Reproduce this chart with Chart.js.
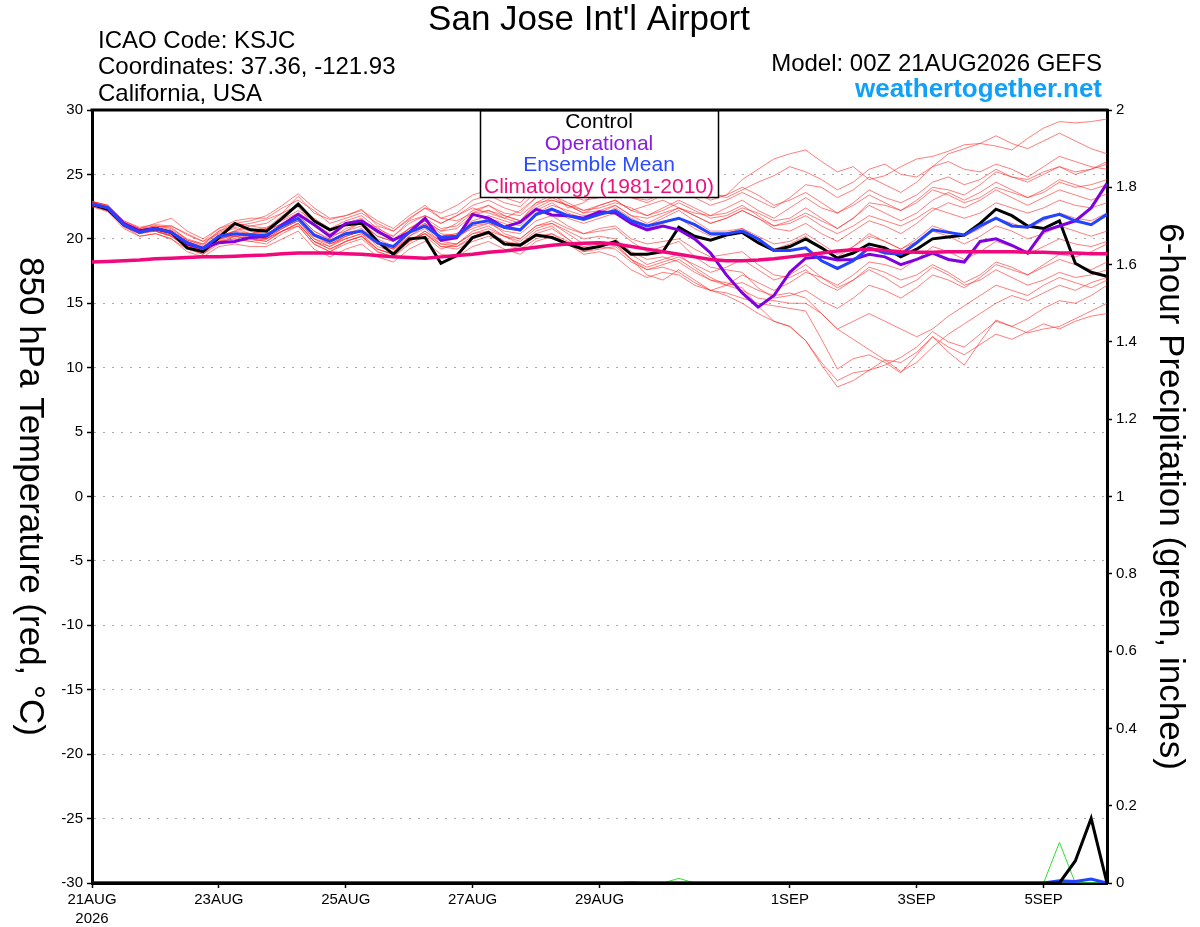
<!DOCTYPE html>
<html lang="en">
<head>
<meta charset="UTF-8">
<title>San Jose Int'l Airport - GEFS 850 hPa Temperature</title>
<script src="https://cdn.jsdelivr.net/npm/chart.js"></script>
<style>
    body { margin: 0; padding: 0; background: #fff; overflow: hidden; }
    #wrap { width: 1200px; height: 927px; }
</style>
</head>
<body>
<div id="wrap"><canvas id="gefsChart" width="1200" height="927"></canvas></div>
<script>
// forecast hours from 00Z 21AUG2026, every 6 h
const hours = [0, 6, 12, 18, 24, 30, 36, 42, 48, 54, 60, 66, 72, 78, 84, 90, 96, 102, 108, 114, 120, 126,
    132, 138, 144, 150, 156, 162, 168, 174, 180, 186, 192, 198, 204, 210, 216, 222, 228, 234, 240, 246,
    252, 258, 264, 270, 276, 282, 288, 294, 300, 306, 312, 318, 324, 330, 336, 342, 348, 354, 360, 366,
    372, 378, 384];
const tickHours = [0, 48, 96, 144, 192, 264, 312, 360];
const tickLabels = ["21AUG", "23AUG", "25AUG", "27AUG", "29AUG", "1SEP", "3SEP", "5SEP"];
const tempTicks = [-30, -25, -20, -15, -10, -5, 0, 5, 10, 15, 20, 25, 30];
const precipTicks = [0, 0.2, 0.4, 0.6, 0.8, 1, 1.2, 1.4, 1.6, 1.8, 2];

// 850 hPa temperature (C)
const control = [22.7, 22.3, 21.1, 20.6, 20.8, 20.5, 19.3, 19.0,
    20.1, 21.2, 20.7, 20.6, 21.6, 22.7, 21.4, 20.7,
    21.1, 21.2, 19.8, 18.8, 20.0, 20.1, 18.1, 18.7,
    20.1, 20.5, 19.6, 19.5, 20.3, 20.1, 19.6, 19.2,
    19.4, 19.8, 18.8, 18.8, 19.0, 20.9, 20.2, 19.9,
    20.3, 20.5, 19.7, 19.1, 19.4, 20.0, 19.3, 18.5,
    18.9, 19.6, 19.3, 18.6, 19.2, 20.0, 20.15, 20.3,
    21.2, 22.3, 21.8, 21.0, 20.8, 21.4, 18.1, 17.4, 17.1];
const operational = [22.7, 22.4, 21.2, 20.6, 20.8, 20.5, 19.6, 19.25,
    19.7, 19.8, 20.1, 20.2, 21.1, 21.9, 21.1, 20.2,
    21.2, 21.4, 20.6, 19.9, 20.5, 21.6, 19.9, 20.1,
    21.9, 21.6, 20.9, 21.3, 22.3, 21.85, 21.8, 21.6,
    22.1, 22.0, 21.2, 20.7, 21.0, 20.7, 20.0, 18.9,
    17.2, 15.8, 14.7, 15.6, 17.4, 18.5, 18.6, 18.35,
    18.4, 18.8, 18.6, 18.0, 18.4, 18.9, 18.4, 18.2,
    19.8, 20.0, 19.5, 18.9, 20.6, 21.0, 21.4, 22.4, 24.3];
const ensMean = [22.7, 22.4, 21.1, 20.5, 20.8, 20.5, 19.7, 19.25,
    20.2, 20.4, 20.3, 20.3, 21.0, 21.6, 20.3, 19.8,
    20.4, 20.6, 19.7, 19.4, 20.5, 21.0, 20.1, 20.2,
    21.2, 21.4, 20.9, 20.7, 21.9, 22.3, 21.8, 21.5,
    21.9, 22.2, 21.4, 21.0, 21.3, 21.6, 21.1, 20.4,
    20.4, 20.6, 20.0, 19.1, 19.1, 19.3, 18.3, 17.7,
    18.3, 19.3, 18.9, 18.8, 19.7, 20.7, 20.5, 20.3,
    21.0, 21.6, 21.0, 20.9, 21.6, 21.9, 21.4, 21.1, 21.9];
const climatology = [18.2, 18.25, 18.3, 18.35, 18.45, 18.5, 18.55, 18.6,
    18.6, 18.65, 18.7, 18.75, 18.85, 18.9, 18.9, 18.9,
    18.85, 18.8, 18.7, 18.6, 18.55, 18.5, 18.6, 18.7,
    18.8, 18.95, 19.05, 19.2, 19.35, 19.5, 19.6, 19.65,
    19.7, 19.6, 19.4, 19.2, 19.0, 18.8, 18.6, 18.4,
    18.3, 18.3, 18.35, 18.45, 18.6, 18.75, 18.9, 19.05,
    19.15, 19.2, 19.1, 19.0, 18.95, 18.95, 19.0, 19.0,
    19.0, 19.0, 19.0, 18.95, 18.95, 18.9, 18.9, 18.85, 18.85];

// ensemble members (red)
const member01 = [22.9, 22.5, 21.3, 20.8, 21.0, 20.9, 19.9, 19.6, 20.6, 21.0, 21.2, 21.5, 22.0, 23.3, 22.0, 21.5,
    21.8, 22.3, 21.0, 20.6, 21.5, 22.4, 21.6, 22.0, 23.0, 23.4, 22.8, 22.5, 23.6, 24.2, 23.8, 23.4,
    23.6, 24.0, 23.2, 23.0, 23.5, 24.2, 23.6, 23.0, 23.4, 24.6, 25.4, 26.2, 26.6, 26.9, 26.0, 25.2,
    25.6, 24.6, 24.9, 25.6, 26.2, 26.4, 26.8, 27.3, 27.4, 27.2, 26.9, 27.8, 28.6, 29.1, 29.0, 29.1, 29.3];
const member02 = [22.6, 22.2, 21.0, 20.4, 20.9, 21.0, 20.4, 19.8, 20.4, 20.8, 20.4, 20.8, 21.5, 22.2, 21.4, 20.6,
    21.2, 21.6, 20.4, 20.2, 21.4, 21.8, 21.2, 21.8, 22.4, 22.0, 21.6, 22.2, 23.2, 23.6, 22.4, 22.8,
    23.8, 24.6, 24.2, 23.4, 23.9, 24.6, 24.0, 23.6, 23.2, 23.8, 24.4, 24.9, 25.6, 25.2, 24.6, 23.8,
    24.4, 25.4, 25.8, 25.0, 24.8, 25.6, 26.6, 27.0, 27.4, 28.0, 27.4, 27.0, 27.6, 28.2, 27.6, 27.0, 26.6];
const member03 = [22.8, 22.4, 21.2, 20.8, 20.6, 20.2, 19.4, 19.0, 20.0, 20.6, 21.0, 20.8, 21.8, 22.5, 21.0, 20.2,
    20.6, 21.3, 20.9, 20.0, 20.8, 21.4, 20.6, 21.2, 22.2, 22.6, 21.8, 21.4, 22.8, 23.0, 22.6, 22.0,
    22.6, 23.0, 22.2, 22.6, 23.0, 22.4, 22.0, 21.8, 22.4, 23.0, 22.2, 21.6, 22.4, 23.2, 22.4, 22.0,
    22.8, 23.8, 23.2, 22.8, 23.4, 24.4, 24.8, 24.2, 24.6, 25.4, 24.8, 24.6, 25.2, 25.6, 25.0, 25.4, 25.8];
const member04 = [22.7, 22.3, 20.9, 20.4, 20.7, 20.6, 19.8, 19.4, 20.3, 20.2, 20.0, 19.8, 20.6, 21.2, 19.8, 19.4,
    20.2, 20.6, 19.4, 19.0, 20.2, 20.8, 19.8, 20.0, 21.0, 21.6, 21.2, 20.6, 22.0, 22.6, 22.2, 21.8,
    22.0, 22.6, 21.8, 21.6, 22.0, 22.4, 21.8, 21.2, 21.6, 22.2, 21.6, 20.8, 20.6, 21.2, 20.4, 19.8,
    20.6, 21.4, 21.0, 20.4, 21.2, 22.2, 22.8, 22.4, 23.0, 23.8, 23.2, 22.6, 23.2, 23.8, 23.4, 23.0, 23.5];
const member05 = [22.6, 22.2, 21.0, 20.2, 20.4, 20.0, 19.2, 18.8, 19.8, 20.0, 19.8, 19.6, 20.4, 21.0, 19.6, 19.0,
    19.8, 20.2, 19.0, 18.6, 19.6, 20.2, 19.2, 19.6, 20.6, 21.0, 20.2, 19.6, 20.6, 21.0, 20.0, 19.0,
    19.4, 19.2, 18.2, 17.6, 18.0, 18.4, 17.6, 16.8, 16.6, 16.2, 14.8, 13.6, 13.2, 12.1, 10.2, 8.5,
    9.0, 9.8, 10.6, 10.4, 11.2, 12.4, 11.6, 11.0, 11.8, 12.6, 12.2, 12.8, 13.4, 13.0, 13.6, 14.0, 14.2];
const member06 = [22.5, 22.2, 21.1, 20.6, 20.9, 20.4, 19.5, 19.1, 19.9, 20.4, 20.0, 20.2, 21.0, 21.6, 20.4, 19.6,
    20.0, 20.4, 19.2, 18.8, 19.8, 20.6, 19.8, 19.6, 20.4, 20.6, 19.8, 19.4, 20.2, 20.4, 19.6, 18.8,
    19.0, 18.6, 17.6, 17.0, 17.4, 17.2, 16.4, 16.0, 15.8, 15.4, 15.0, 14.8, 14.6, 14.4, 12.2, 9.9,
    10.7, 11.0, 10.4, 9.6, 11.0, 12.4, 11.2, 10.2, 12.0, 13.7, 13.2, 12.7, 13.0, 13.2, 13.8, 14.4, 15.0];
const member07 = [22.8, 22.3, 21.0, 20.5, 20.6, 20.3, 19.6, 19.2, 20.0, 20.3, 20.4, 20.6, 21.2, 21.8, 20.6, 19.9,
    20.4, 20.8, 19.8, 19.2, 20.2, 21.0, 20.2, 20.4, 21.2, 21.4, 20.4, 20.0, 21.0, 21.2, 20.6, 20.0,
    20.2, 20.0, 19.0, 18.4, 18.6, 18.2, 17.4, 16.8, 16.4, 16.0, 15.4, 15.2, 15.0, 15.0, 14.2, 13.0,
    12.2, 11.4, 10.6, 9.7, 10.4, 11.6, 12.6, 13.4, 14.2, 15.0, 15.6, 15.2, 15.8, 16.4, 16.0, 16.6, 17.0];
const member08 = [22.7, 22.4, 21.2, 20.6, 20.8, 20.5, 19.6, 19.0, 20.0, 20.4, 20.2, 20.0, 20.8, 21.4, 20.0, 19.4,
    20.0, 20.4, 19.6, 19.2, 20.0, 20.4, 19.4, 19.4, 20.2, 20.6, 20.2, 20.0, 21.0, 21.4, 20.8, 20.4,
    20.8, 21.0, 20.0, 19.6, 19.8, 20.0, 19.2, 18.6, 18.8, 19.0, 18.0, 17.2, 17.0, 17.6, 16.6, 16.0,
    16.8, 17.8, 17.4, 16.8, 17.2, 18.0, 17.4, 16.6, 17.2, 18.2, 17.8, 17.2, 17.8, 18.4, 18.0, 17.6, 18.2];
const member09 = [22.6, 22.4, 21.2, 20.6, 20.9, 20.7, 19.9, 19.5, 20.5, 20.9, 20.6, 20.9, 21.4, 22.0, 21.2, 20.4,
    21.0, 21.2, 20.2, 19.8, 20.8, 21.6, 20.8, 21.0, 22.0, 22.2, 21.6, 21.2, 22.4, 23.0, 22.6, 22.2,
    22.4, 22.8, 22.4, 21.8, 22.2, 22.8, 22.2, 21.6, 21.8, 22.4, 22.0, 21.4, 21.6, 22.4, 21.6, 20.8,
    21.6, 22.6, 22.0, 21.4, 22.0, 23.0, 23.6, 23.0, 23.6, 24.4, 23.8, 23.2, 23.6, 24.4, 24.0, 24.2, 24.6];
const member10 = [22.9, 22.6, 21.3, 20.6, 20.8, 20.4, 19.4, 18.9, 19.8, 20.2, 20.0, 20.4, 21.0, 21.4, 20.2, 19.6,
    20.2, 20.6, 19.6, 19.2, 20.4, 21.2, 20.2, 20.4, 21.4, 21.8, 21.4, 21.0, 22.2, 22.8, 22.0, 21.6,
    21.8, 22.4, 21.6, 21.0, 21.6, 22.2, 21.4, 20.6, 20.6, 20.8, 20.0, 19.2, 19.6, 20.2, 19.2, 18.6,
    19.4, 20.4, 19.8, 19.2, 20.0, 21.0, 20.6, 20.2, 20.8, 21.6, 21.2, 20.8, 21.4, 22.0, 21.6, 21.4, 22.0];
const member11 = [22.6, 22.3, 21.0, 20.4, 20.6, 20.2, 19.3, 18.8, 19.6, 20.2, 20.4, 20.2, 20.8, 21.6, 20.4, 19.8,
    20.6, 21.0, 20.0, 19.4, 20.6, 21.4, 20.4, 20.2, 20.8, 21.2, 20.6, 20.4, 21.4, 21.8, 21.0, 20.4,
    20.6, 20.8, 19.8, 19.0, 19.4, 19.8, 18.6, 17.8, 17.6, 17.4, 16.2, 15.4, 15.6, 16.0, 15.2, 14.6,
    15.4, 16.4, 16.0, 15.4, 16.2, 17.2, 16.8, 16.2, 17.0, 18.0, 17.6, 17.2, 18.0, 18.8, 18.6, 19.0, 19.6];
const member12 = [22.8, 22.5, 21.2, 20.7, 21.0, 20.8, 20.0, 19.6, 20.6, 21.2, 21.0, 21.2, 22.0, 22.6, 21.6, 20.8,
    21.4, 21.8, 20.8, 20.2, 21.2, 21.8, 21.2, 21.8, 22.6, 23.0, 22.4, 22.0, 23.2, 23.8, 23.4, 23.0,
    23.2, 23.8, 23.2, 22.8, 23.4, 24.0, 23.2, 22.6, 23.0, 23.6, 23.0, 22.4, 23.2, 24.2, 24.0, 23.2,
    23.8, 24.8, 24.2, 23.6, 24.4, 25.6, 26.0, 25.4, 25.2, 25.8, 25.4, 24.8, 25.6, 26.4, 26.0, 25.6, 25.4];
const member13 = [22.7, 22.2, 21.0, 20.5, 20.7, 20.4, 19.6, 19.2, 20.2, 20.6, 20.0, 19.8, 20.6, 21.2, 19.8, 19.2,
    19.8, 20.2, 19.2, 18.8, 19.8, 20.6, 19.6, 19.4, 20.0, 20.4, 19.6, 19.2, 20.0, 20.4, 19.8, 19.4,
    19.6, 19.8, 18.8, 18.0, 18.4, 18.8, 17.8, 17.0, 16.4, 16.6, 16.0, 15.6, 15.8, 15.4, 14.2, 13.0,
    13.6, 14.2, 13.6, 13.0, 12.4, 13.0, 14.0, 14.8, 15.6, 16.4, 16.0, 15.6, 16.4, 17.0, 16.6, 16.2, 16.8];
const member14 = [22.6, 22.2, 21.0, 20.6, 20.9, 20.6, 19.8, 19.3, 20.2, 20.4, 20.2, 20.0, 20.8, 21.4, 20.0, 19.6,
    20.2, 20.6, 19.6, 19.4, 20.6, 21.2, 20.2, 20.2, 21.0, 21.2, 20.8, 20.6, 21.8, 22.2, 21.6, 21.2,
    21.6, 22.0, 21.2, 20.8, 21.2, 21.6, 20.8, 20.2, 20.4, 20.8, 20.2, 19.6, 19.8, 20.4, 19.6, 18.8,
    19.4, 20.2, 19.8, 19.2, 19.8, 20.6, 20.2, 19.6, 20.2, 21.0, 20.6, 20.0, 20.4, 21.0, 20.6, 20.2, 20.6];
const member15 = [22.9, 22.6, 21.4, 20.9, 21.1, 21.0, 20.3, 19.8, 20.8, 21.4, 21.6, 21.6, 22.4, 23.0, 22.2, 21.2,
    21.6, 22.0, 21.2, 20.6, 21.6, 22.4, 22.0, 22.6, 23.4, 23.8, 23.2, 22.8, 24.0, 24.6, 24.2, 23.8,
    24.2, 24.6, 23.8, 23.4, 23.8, 24.4, 23.8, 23.2, 23.4, 24.0, 23.4, 22.6, 23.0, 23.6, 22.8, 22.0,
    22.6, 23.4, 22.8, 22.2, 22.8, 23.8, 23.4, 22.8, 23.2, 24.0, 23.6, 23.2, 23.8, 24.6, 24.2, 23.8, 24.2];
const member16 = [22.5, 22.1, 20.8, 20.2, 20.4, 20.0, 19.0, 18.6, 19.4, 19.6, 19.4, 19.4, 20.0, 20.6, 19.2, 18.6,
    19.2, 19.6, 18.6, 18.2, 19.2, 19.8, 18.8, 18.6, 19.4, 19.8, 19.2, 18.8, 19.8, 20.2, 19.6, 19.0,
    19.2, 19.4, 18.4, 17.8, 18.2, 18.6, 18.0, 17.4, 17.8, 18.4, 17.6, 16.8, 17.2, 18.0, 17.0, 16.2,
    16.8, 17.6, 17.0, 16.2, 16.8, 17.8, 17.2, 16.4, 16.8, 17.6, 17.0, 16.4, 16.8, 17.4, 17.0, 17.2, 17.6];
const member17 = [22.7, 22.4, 21.2, 20.6, 20.8, 20.4, 19.6, 19.2, 20.2, 20.6, 20.4, 20.6, 21.2, 21.8, 20.6, 20.0,
    20.8, 21.2, 20.2, 19.8, 20.8, 21.4, 20.6, 20.8, 21.8, 22.2, 21.8, 21.4, 22.6, 23.2, 22.6, 22.0,
    22.2, 22.6, 21.8, 21.2, 21.8, 22.4, 21.8, 21.2, 21.6, 22.2, 21.6, 21.0, 21.4, 22.0, 21.4, 20.8,
    21.6, 22.8, 22.6, 22.2, 23.0, 24.0, 23.8, 23.4, 24.2, 25.2, 24.8, 24.4, 25.0, 25.6, 25.2, 25.4, 26.0];
const member18 = [22.8, 22.3, 21.1, 20.5, 20.6, 20.2, 19.4, 19.0, 19.8, 20.0, 19.8, 20.0, 20.6, 21.0, 19.6, 19.0,
    19.6, 20.0, 19.0, 18.6, 19.8, 20.4, 19.4, 19.2, 19.8, 20.2, 19.8, 19.6, 20.4, 20.8, 20.0, 19.2,
    19.4, 19.6, 18.4, 17.2, 16.8, 17.6, 16.8, 16.0, 16.4, 17.2, 16.6, 16.0, 16.6, 17.4, 17.0, 16.4,
    17.2, 18.2, 18.0, 17.6, 18.4, 19.4, 19.0, 18.4, 19.0, 19.8, 19.4, 18.8, 19.4, 20.0, 19.6, 19.4, 19.8];
const member19 = [22.9, 22.6, 21.4, 20.8, 21.2, 21.6, 20.6, 20.0, 20.8, 21.2, 21.4, 21.8, 22.6, 23.5, 22.4, 21.6,
    21.8, 22.2, 21.4, 20.8, 21.8, 22.6, 21.6, 21.4, 22.0, 22.6, 22.0, 21.8, 22.8, 23.4, 22.8, 22.2,
    22.6, 23.0, 22.2, 21.8, 22.4, 23.0, 22.4, 21.8, 22.0, 22.6, 21.8, 21.0, 21.2, 21.8, 21.0, 20.4,
    21.0, 21.8, 21.4, 21.0, 21.6, 22.4, 22.0, 21.6, 22.0, 22.8, 22.4, 22.0, 22.4, 23.0, 22.6, 22.4, 22.8];
const member20 = [22.6, 22.3, 21.1, 20.5, 20.7, 20.3, 19.5, 19.0, 20.0, 20.2, 20.0, 20.0, 20.6, 21.2, 19.8, 19.2,
    19.8, 20.2, 19.2, 18.8, 19.8, 20.4, 19.6, 19.6, 20.4, 20.8, 20.2, 19.8, 20.8, 21.2, 20.4, 19.6,
    19.8, 19.6, 18.4, 17.6, 17.8, 17.4, 16.6, 16.0, 15.6, 15.0, 14.2, 13.6, 13.2, 12.1, 10.4, 9.0,
    9.6, 9.8, 10.2, 10.8, 11.6, 12.8, 12.0, 11.6, 12.6, 13.6, 13.2, 13.8, 14.6, 15.2, 15.0, 15.6, 16.4];
const members = [member01, member02, member03, member04, member05, member06, member07, member08, member09, member10,
    member11, member12, member13, member14, member15, member16, member17, member18, member19, member20];

// 6-hour precipitation (inches)
const controlPrecip = [0, 0, 0, 0, 0, 0, 0, 0, 0, 0, 0, 0, 0, 0, 0, 0, 0, 0, 0, 0, 0, 0, 0, 0, 0, 0, 0, 0, 0, 0,
    0, 0, 0, 0, 0, 0, 0, 0, 0, 0, 0, 0, 0, 0, 0, 0, 0, 0, 0, 0, 0, 0, 0, 0, 0, 0, 0, 0, 0, 0,
    0, 0, 0.057, 0.167, 0];
const meanPrecip = [0, 0, 0, 0, 0, 0, 0, 0, 0, 0, 0, 0, 0, 0, 0, 0, 0, 0, 0, 0, 0, 0, 0, 0, 0, 0, 0, 0, 0, 0,
    0, 0, 0, 0, 0, 0, 0, 0, 0, 0, 0, 0, 0, 0, 0, 0, 0, 0, 0, 0, 0, 0, 0, 0, 0, 0, 0, 0, 0, 0,
    0, 0.006, 0.004, 0.01, 0];
const memberPrecipA = [0, 0, 0, 0, 0, 0, 0, 0, 0, 0, 0, 0, 0, 0, 0, 0, 0, 0, 0, 0, 0, 0, 0, 0, 0, 0, 0, 0, 0, 0,
    0, 0, 0, 0, 0, 0, 0, 0, 0, 0, 0, 0, 0, 0, 0, 0, 0, 0, 0, 0, 0, 0, 0, 0, 0, 0, 0, 0, 0, 0,
    0, 0.105, 0, 0, 0];
const memberPrecipB = [0, 0, 0, 0, 0, 0, 0, 0, 0, 0, 0, 0, 0, 0, 0, 0, 0, 0, 0, 0, 0, 0, 0, 0, 0, 0, 0, 0, 0, 0,
    0, 0, 0, 0, 0.004, 0, 0, 0.012, 0, 0, 0, 0, 0, 0, 0, 0, 0, 0, 0, 0, 0, 0, 0, 0, 0, 0, 0, 0, 0, 0,
    0, 0, 0, 0, 0];

const FONT = "'Liberation Sans', Arial, Helvetica, sans-serif";
const pts = arr => arr.map((v, i) => ({ x: hours[i], y: v }));

const datasets = [];
datasets.push({ data: pts(controlPrecip), yAxisID: "yP", borderColor: "#000", borderWidth: 3, order: 0 });
datasets.push({ data: pts(meanPrecip), yAxisID: "yP", borderColor: "#2244ff", borderWidth: 3, order: 1 });
datasets.push({ data: pts(climatology), yAxisID: "y", borderColor: "#f0087c", borderWidth: 3.5, order: 2 });
datasets.push({ data: pts(ensMean), yAxisID: "y", borderColor: "#2244ff", borderWidth: 3, order: 3 });
datasets.push({ data: pts(operational), yAxisID: "y", borderColor: "#8000e0", borderWidth: 3, order: 4 });
datasets.push({ data: pts(control), yAxisID: "y", borderColor: "#000", borderWidth: 3, order: 5 });
[memberPrecipA, memberPrecipB].forEach(p => {
    datasets.push({ data: pts(p), yAxisID: "yP", borderColor: "#33dd33", borderWidth: 1, order: 8 });
});
members.forEach(m => {
    datasets.push({ data: pts(m), yAxisID: "y", borderColor: "rgba(255, 40, 40, 0.6)", borderWidth: 1, order: 10 });
});

// titles, legend box and rotated axis titles
const decorations = {
    id: "decorations",
    afterDatasetsDraw(chart) {
        const { ctx, chartArea: a } = chart;
        ctx.save();
        // legend box
        const bx = 480, by = a.top, bw = 238, bh = 87;
        ctx.fillStyle = "#fff";
        ctx.fillRect(bx, by, bw, bh);
        ctx.strokeStyle = "#000";
        ctx.lineWidth = 1.5;
        ctx.strokeRect(bx + 0.5, by + 0.5, bw, bh);
        ctx.font = "21px " + FONT;
        ctx.textAlign = "center";
        ctx.textBaseline = "alphabetic";
        const rows = [["Control", "#000"], ["Operational", "#8a1be0"], ["Ensemble Mean", "#2a4bff"], ["Climatology (1981-2010)", "#ec127c"]];
        rows.forEach((r, i) => {
            ctx.fillStyle = r[1];
            ctx.fillText(r[0], bx + bw / 2, by + 18 + i * 21.5);
        });
        // top frame line
        ctx.strokeStyle = "#000";
        ctx.lineWidth = 3;
        ctx.beginPath();
        ctx.moveTo(a.left - 1.5, a.top);
        ctx.lineTo(a.right + 1.5, a.top);
        ctx.stroke();
        ctx.restore();
    },
    afterDraw(chart) {
        const { ctx, chartArea: a } = chart;
        ctx.save();
        ctx.fillStyle = "#000";
        ctx.textBaseline = "alphabetic";
        ctx.font = "35px " + FONT;
        ctx.textAlign = "center";
        ctx.fillText("San Jose Int'l Airport", 589, 30);

        ctx.font = "24px " + FONT;
        ctx.textAlign = "left";
        ctx.fillText("ICAO Code: KSJC", 98, 48);
        ctx.fillText("Coordinates: 37.36, -121.93", 98, 74);
        ctx.fillText("California, USA", 98, 101);

        ctx.textAlign = "right";
        ctx.fillText("Model: 00Z 21AUG2026 GEFS", 1102, 71);
        ctx.font = "bold 26px " + FONT;
        ctx.fillStyle = "#11a0f8";
        ctx.fillText("weathertogether.net", 1102, 97);

        // axis titles, reading top to bottom
        ctx.fillStyle = "#000";
        ctx.font = "35px " + FONT;
        ctx.textAlign = "center";
        ctx.textBaseline = "middle";
        const midY = (a.top + a.bottom) / 2;
        ctx.save();
        ctx.translate(30, midY);
        ctx.rotate(Math.PI / 2);
        ctx.fillText("850 hPa Temperature (red, \u00B0C)", 0, 0);
        ctx.restore();
        ctx.save();
        ctx.translate(1170, midY);
        ctx.rotate(Math.PI / 2);
        ctx.fillText("6-hour Precipitation (green, inches)", 0, 0);
        ctx.restore();
        ctx.restore();
    }
};

const tickFont = { family: FONT, size: 15, lineHeight: 1.3 };

new Chart(document.getElementById("gefsChart").getContext("2d"), {
    type: "line",
    data: { datasets: datasets },
    options: {
        responsive: false,
        animation: false,
        devicePixelRatio: 1,
        layout: { padding: { top: 110, left: 0, right: 0, bottom: 0 } },
        elements: { point: { radius: 0 }, line: { tension: 0, fill: false } },
        plugins: { legend: { display: false }, tooltip: { enabled: false }, title: { display: false } },
        scales: {
            x: {
                type: "linear",
                min: 0,
                max: 384,
                afterBuildTicks: s => { s.ticks = tickHours.map(v => ({ value: v })); },
                afterFit: s => { s.height = 44; },
                ticks: {
                    autoSkip: false,
                    maxRotation: 0,
                    color: "#000",
                    font: tickFont,
                    padding: 2,
                    callback: v => {
                        const i = tickHours.indexOf(v);
                        return i === 0 ? [tickLabels[0], "2026"] : tickLabels[i];
                    }
                },
                grid: { display: true, drawOnChartArea: false, drawTicks: true, tickLength: 5, tickColor: "#000", tickWidth: 1.5 },
                border: { display: true, color: "#000", width: 3 }
            },
            y: {
                position: "left",
                min: -30,
                max: 30,
                afterBuildTicks: s => { s.ticks = tempTicks.map(v => ({ value: v })); },
                afterFit: s => { s.width = 92; },
                ticks: { color: "#000", font: tickFont, padding: 4 },
                grid: { color: "#aaaaaa", lineWidth: 1, tickColor: "#000", tickLength: 5, tickWidth: 1.5 },
                border: { display: true, color: "#000", width: 3, dash: [2, 7] }
            },
            yP: {
                position: "right",
                min: 0,
                max: 2,
                afterBuildTicks: s => { s.ticks = precipTicks.map(v => ({ value: v })); },
                afterFit: s => { s.width = 93; },
                ticks: { color: "#000", font: tickFont, padding: 4, callback: v => String(Math.round(v * 10) / 10) },
                grid: { drawOnChartArea: false, tickColor: "#000", tickLength: 5, tickWidth: 1.5 },
                border: { display: true, color: "#000", width: 3 }
            }
        }
    },
    plugins: [decorations]
});
</script>
</body>
</html>
